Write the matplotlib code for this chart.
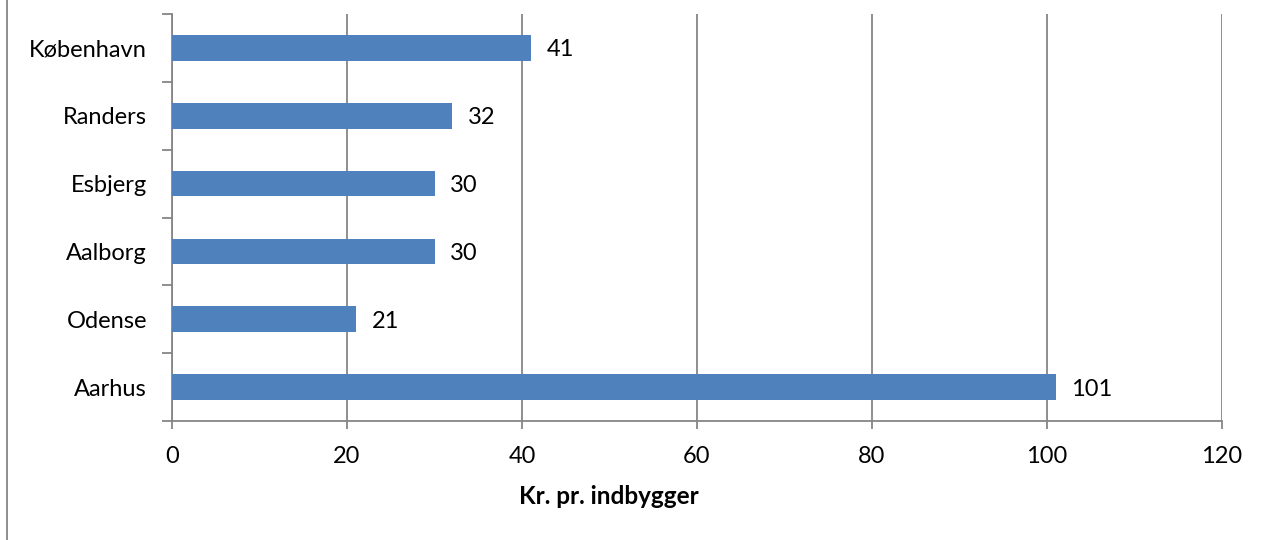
import matplotlib.pyplot as plt
from matplotlib.lines import Line2D
import numpy as np

byer = ['Aarhus', 'Odense', 'Aalborg', 'Esbjerg', 'Randers', 'København']
kr_pr_indbygger = [101, 21, 30, 30, 32, 41]
x_ticks = [0, 20, 40, 60, 80, 100, 120]

plt.rcParams['font.family'] = ['Lato', 'DejaVu Sans']
graa = '#868686'
blaa = '#4F81BD'

fig = plt.figure(figsize=(12.66, 5.4), dpi=100)
ax = fig.add_axes([172 / 1266, 1 - 421 / 540, (1222 - 172) / 1266, (421 - 14) / 540])

pos = np.arange(len(byer))
ax.barh(pos, kr_pr_indbygger, height=0.38, color=blaa, zorder=3)

# værdier ved siden af søjlerne
for p, v in zip(pos, kr_pr_indbygger):
    ax.text(v + 1.8, p - 0.03, str(v), va='center', ha='left', fontsize=17)

ax.set_xlim(0, 120)
ax.set_ylim(-0.5, len(byer) - 0.5)
ax.set_xticks(x_ticks)
ax.set_xticklabels([str(t) for t in x_ticks], fontsize=17)
ax.set_yticks(pos)
ax.set_yticklabels(byer, fontsize=17)
ax.set_yticks(np.arange(-0.5, len(byer), 1.0), minor=True)

ax.tick_params(axis='y', which='major', length=0, pad=18)
ax.tick_params(axis='y', which='minor', length=7, width=1.3, color=graa, direction='out')
ax.tick_params(axis='x', which='major', length=6, width=1.3, color=graa, direction='out', pad=12)

ax.xaxis.grid(True, color=graa, linewidth=1.3, zorder=0)
ax.set_axisbelow(True)
for s in ['top', 'right']:
    ax.spines[s].set_visible(False)
for s in ['left', 'bottom']:
    ax.spines[s].set_color(graa)
    ax.spines[s].set_linewidth(1.3)

# aksetitel sidder mellem 40 og 60 i originalen
fig.text(609 / 1266, 1 - 497 / 540, 'Kr. pr. indbygger', fontsize=17.5, fontweight='bold',
         ha='center', va='center')

# ramme i venstre side
fig.add_artist(Line2D([7 / 1266, 7 / 1266], [0, 1], color=graa, linewidth=1.3))

fig.savefig('out.png', dpi=100)
